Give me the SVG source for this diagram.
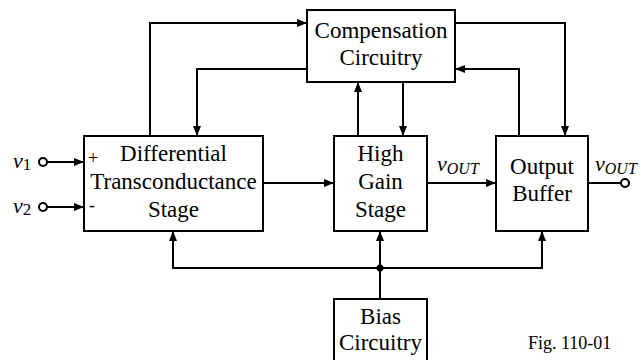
<svg xmlns="http://www.w3.org/2000/svg" width="641" height="360" viewBox="0 0 641 360">
<defs>
<marker id="ah" viewBox="0 0 10 8" refX="10" refY="4" markerWidth="10" markerHeight="8" markerUnits="userSpaceOnUse" orient="auto">
<path d="M0,0 L10,4 L0,8 Z" fill="#000"/>
</marker>
</defs>
<style>
.box{fill:#fff;stroke:#000;stroke-width:2}
.t{font-size:23px;text-anchor:middle;fill:#000}
.w{fill:none;stroke:#000;stroke-width:2}
.a{marker-end:url(#ah)}
.it{font-style:italic;fill:#000}
.pin{fill:#fff;stroke:#000;stroke-width:2}
.sg{font-size:18px;fill:#000}
</style>
<rect width="641" height="360" fill="#fff"/>
<g id="connectors">
<polyline class="w a" points="150,136 150,23 307,23"/>
<polyline class="w a" points="455,23 565,23 565,136"/>
<polyline class="w a" points="307,69 197,69 197,136"/>
<polyline class="w a" points="519,136 519,69 455,69"/>
<line class="w a" x1="358" y1="136" x2="358" y2="82"/>
<line class="w a" x1="403" y1="82" x2="403" y2="136"/>
<line class="w a" x1="263" y1="183" x2="334" y2="183"/>
<line class="w a" x1="427" y1="183" x2="496" y2="183"/>
<line class="w" x1="588" y1="183" x2="621" y2="183"/>
<line class="w a" x1="47" y1="162" x2="84" y2="162"/>
<line class="w a" x1="47" y1="207" x2="84" y2="207"/>
<line class="w" x1="380" y1="299" x2="380" y2="268"/>
<polyline class="w a" points="380,268 173,268 173,231"/>
<polyline class="w a" points="380,268 542,268 542,231"/>
<line class="w a" x1="380" y1="268" x2="380" y2="231"/>
<circle cx="380" cy="268" r="3.5" fill="#000"/>
<circle class="pin" cx="43" cy="162" r="4"/>
<circle class="pin" cx="43" cy="207" r="4"/>
<circle class="pin" cx="625" cy="183" r="4"/>
</g>
<g font-family="Liberation Serif, DejaVu Serif, serif">
<g id="comp">
<rect class="box" x="307" y="10" width="148" height="72"/>
<text class="t" x="381" y="38">Compensation</text>
<text class="t" x="381" y="65">Circuitry</text>
</g>
<g id="diff">
<rect class="box" x="84" y="136" width="179" height="95"/>
<text class="t" x="173.5" y="161">Differential</text>
<text class="t" x="173.5" y="189">Transconductance</text>
<text class="t" x="173.5" y="217">Stage</text>
<text class="sg" x="88" y="164">+</text>
<text class="sg" x="89" y="211">-</text>
</g>
<g id="highgain">
<rect class="box" x="334" y="136" width="93" height="95"/>
<text class="t" x="380.5" y="161">High</text>
<text class="t" x="380.5" y="189">Gain</text>
<text class="t" x="380.5" y="217">Stage</text>
</g>
<g id="buffer">
<rect class="box" x="496" y="136" width="92" height="95"/>
<text class="t" x="542" y="174">Output</text>
<text class="t" x="542" y="201">Buffer</text>
</g>
<g id="bias">
<rect class="box" x="334" y="299" width="93" height="70"/>
<text class="t" x="380.5" y="324">Bias</text>
<text class="t" x="380.5" y="350">Circuitry</text>
</g>
<g id="labels">
<text class="it" x="13" y="168" font-size="22">v<tspan font-style="normal" font-size="17" dy="2">1</tspan></text>
<text class="it" x="13" y="213" font-size="22">v<tspan font-style="normal" font-size="17" dy="2">2</tspan></text>
<text class="it" x="437" y="171" font-size="22">v<tspan font-size="16" dy="3">OUT</tspan></text>
<text class="it" x="595" y="171" font-size="22">v<tspan font-size="16" dy="3">OUT</tspan></text>
<text x="528" y="349" font-size="18" fill="#000">Fig. 110-01</text>
</g>
</g>
</svg>
